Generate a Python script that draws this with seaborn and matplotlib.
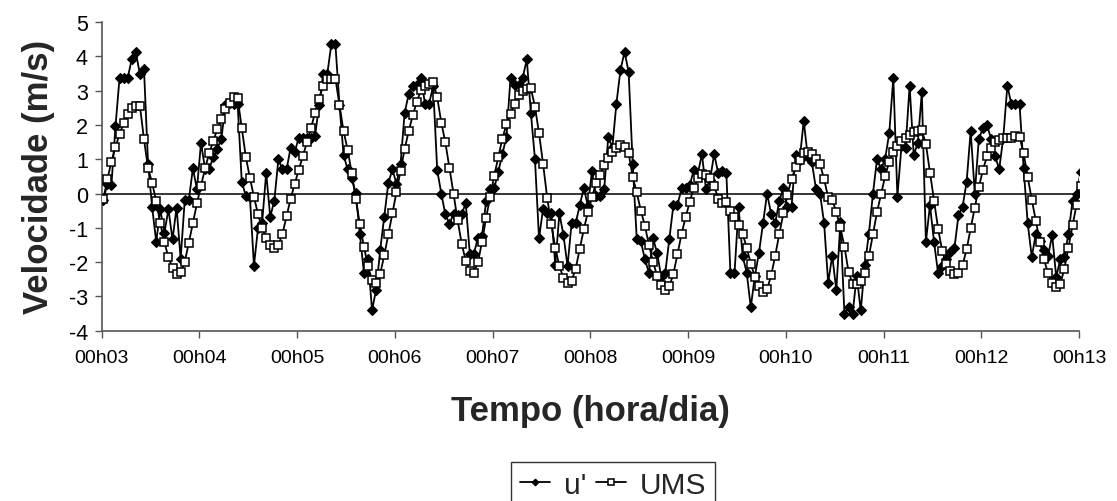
import numpy as np
import matplotlib
matplotlib.use("Agg")
import matplotlib.pyplot as plt
import seaborn as sns

# ---------------- data (hourly samples, day 3 to day 13) ----------------
tick_days = list(range(3, 14))
tick_labels = [f"00h{d:02d}" for d in tick_days]

u_prime = [
    -0.19, 0.28, 0.25, 1.96, 3.38, 3.38, 3.38, 3.91, 4.12, 3.47,
    3.62, 0.87, -0.40, -1.41, -0.46, -1.15, -0.46, -1.34, -0.41, -1.90,
    -0.20, -0.20, 0.73, 0.13, 1.48, 0.71, 0.72, 1.05, 1.30, 1.60,
    2.58, 2.63, 2.60, 2.60, 0.35, -0.07, -0.09, -2.10, -1.00, -0.86,
    0.60, -0.68, -0.21, 1.00, 0.70, 0.70, 1.33, 1.20, 1.63, 1.63,
    1.63, 1.63, 1.68, 2.59, 3.48, 3.48, 4.35, 4.35, 2.59, 1.13,
    0.70, 0.44, 0.02, -1.17, -2.31, -1.92, -3.40, -2.80, -1.65, -0.68,
    0.31, 0.70, 0.29, 0.86, 2.35, 2.90, 3.13, 3.16, 3.37, 2.62,
    2.62, 3.13, 0.68, 0.00, -0.61, -0.88, -0.60, -0.63, -0.61, -0.28,
    -1.75, -1.75, -1.30, -1.25, -0.22, 0.12, 0.15, 0.63, 1.15, 1.65,
    3.38, 3.16, 3.16, 3.38, 3.91, 2.35, 1.00, -1.31, -0.44, -0.58,
    -0.58, -2.09, -0.58, -1.21, -2.12, -0.86, -0.86, -0.34, 0.17, -0.37,
    0.65, -0.07, -0.07, 0.12, 1.65, 1.34, 2.62, 3.60, 4.13, 3.55,
    0.87, -1.33, -1.39, -1.92, -2.31, -1.31, -1.73, -2.43, -2.31, -1.33,
    -0.34, -0.34, 0.15, 0.15, 0.24, 0.68, 0.58, 1.15, 0.12, 0.40,
    1.15, 0.60, 0.65, 0.60, -2.33, -2.33, -0.40, -1.82, -2.31, -3.32,
    -2.40, -1.74, -0.87, 0.00, -0.60, -0.87, -0.21, 0.15, -0.38, -0.40,
    1.13, 0.98, 2.12, 1.06, 0.91, 0.14, 0.00, -0.86, -2.60, -1.81,
    -2.82, -0.84, -3.52, -3.31, -3.51, -2.40, -3.41, -2.09, -1.17, 0.00,
    1.00, 0.70, 1.02, 1.76, 3.37, -0.09, 1.38, 1.33, 3.14, 1.13,
    1.46, 2.95, -1.41, -0.34, -1.41, -2.33, -2.10, -1.90, -1.70, -1.60,
    -0.63, -0.39, 0.34, 1.83, 0.00, 1.60, 1.90, 1.99, 1.60, 1.09,
    0.71, 1.63, 3.14, 2.60, 2.60, 2.60, 0.73, -0.87, -1.85, -1.17,
    -1.39, -1.65, -1.83, -1.21, -2.43, -1.92, -1.85, -1.17, -0.22, 0.00,
    0.63,
]

ums = [
    -0.17, 0.41, 0.93, 1.36, 1.73, 2.05, 2.31, 2.48, 2.56, 2.55,
    1.58, 0.73, 0.31, -0.23, -0.87, -1.42, -1.86, -2.17, -2.36, -2.30,
    -2.00, -1.44, -0.86, -0.29, 0.23, 0.73, 1.17, 1.53, 1.87, 2.18,
    2.45, 2.65, 2.81, 2.77, 1.92, 1.07, 0.46, -0.10, -0.60, -1.02,
    -1.30, -1.49, -1.58, -1.49, -1.18, -0.66, -0.16, 0.28, 0.68, 1.09,
    1.49, 1.90, 2.36, 2.76, 3.14, 3.35, 3.35, 3.35, 2.59, 1.82,
    1.28, 0.60, -0.17, -0.89, -1.55, -2.12, -2.53, -2.60, -2.34, -1.80,
    -1.19, -0.58, 0.05, 0.67, 1.29, 1.82, 2.28, 2.67, 3.01, 3.12,
    3.18, 3.26, 2.80, 2.07, 1.49, 0.75, 0.00, -0.77, -1.46, -1.96,
    -2.26, -2.31, -2.01, -1.41, -0.71, -0.09, 0.52, 1.06, 1.60, 2.02,
    2.32, 2.61, 2.87, 2.98, 3.06, 3.07, 2.53, 1.76, 0.86, -0.12,
    -0.90, -1.58, -2.12, -2.46, -2.62, -2.54, -2.19, -1.62, -1.04, -0.54,
    -0.11, 0.31, 0.55, 0.82, 1.04, 1.21, 1.34, 1.40, 1.35, 1.18,
    0.49, 0.03, -0.50, -0.94, -1.51, -1.99, -2.41, -2.67, -2.82, -2.71,
    -2.34, -1.77, -1.18, -0.69, -0.25, 0.17, 0.44, 0.56, 0.53, 0.44,
    0.22, -0.15, -0.29, -0.25, -0.52, -0.68, -0.92, -1.17, -1.58, -2.05,
    -2.43, -2.69, -2.87, -2.79, -2.39, -1.81, -1.18, -0.58, -0.05, 0.43,
    0.76, 0.99, 1.17, 1.21, 1.14, 1.01, 0.86, 0.42, -0.11, -0.19,
    -0.54, -0.99, -1.55, -2.28, -2.64, -2.64, -2.56, -2.31, -1.83, -1.19,
    -0.54, -0.01, 0.51, 0.93, 1.20, 1.38, 1.53, 1.62, 1.72, 1.80,
    1.83, 1.85, 1.44, 0.61, -0.22, -1.03, -1.67, -2.06, -2.27, -2.34,
    -2.31, -2.09, -1.63, -1.01, -0.41, 0.18, 0.69, 1.08, 1.33, 1.50,
    1.56, 1.61, 1.62, 1.63, 1.68, 1.65, 1.17, 0.48, -0.18, -0.80,
    -1.41, -1.92, -2.33, -2.60, -2.73, -2.65, -2.19, -1.58, -0.93, -0.33,
    0.22,
]

hours = np.arange(len(ums))
t_days = tick_days[0] + (hours + 0.4) / 24.0

# ---------------- style ----------------
sns.set_style("ticks")
plt.rcParams["font.family"] = ["Liberation Sans", "DejaVu Sans"]
plt.rcParams["axes.unicode_minus"] = False

fig = plt.figure(figsize=(11.17, 5.02), dpi=100)
ax = fig.add_axes([0.0910, 0.3392, 0.8750, 0.6150])

ax.axhline(0, color="black", lw=1.1, zorder=1)

sns.lineplot(x=t_days, y=u_prime, ax=ax, color="black", lw=1.3,
             marker="D", markersize=4.6, markerfacecolor="black",
             markeredgecolor="black", markeredgewidth=0.8,
             label="u'", sort=False, zorder=3)
sns.lineplot(x=t_days, y=ums, ax=ax, color="black", lw=1.3,
             marker="s", markersize=5.2, markerfacecolor="white",
             markeredgecolor="black", markeredgewidth=1.1,
             label="UMS", sort=False, zorder=4)

ax.set_xlim(tick_days[0], tick_days[-1])
ax.set_ylim(-4, 5)
ax.set_xticks(tick_days)
ax.set_xticklabels(tick_labels)
ax.set_yticks(range(-4, 6))
ax.tick_params(axis="x", labelsize=14, length=5, width=1,
               color="#555555", labelcolor="black", direction="out", pad=8)
ax.tick_params(axis="y", labelsize=15.5, length=5, width=1,
               color="#555555", labelcolor="black", direction="out", pad=5)

for side in ("top", "right"):
    ax.spines[side].set_visible(False)
for side in ("left", "bottom"):
    ax.spines[side].set_color("#555555")
    ax.spines[side].set_linewidth(1.2)

ax.set_ylabel("Velocidade (m/s)", fontsize=25, fontweight="bold", labelpad=10)
ax.set_xlabel("Tempo (hora/dia)", fontsize=25, fontweight="bold", labelpad=20)

handles, labels = ax.get_legend_handles_labels()
ax.get_legend().remove()
leg = fig.legend(handles, labels, loc="upper center",
                 bbox_to_anchor=(0.549, 0.078), ncol=2, fontsize=21.5,
                 frameon=True, fancybox=False, edgecolor="black",
                 handlelength=1.0, handletextpad=0.45, columnspacing=0.35,
                 borderpad=0.3, markerscale=0.75, borderaxespad=0)
leg.get_frame().set_linewidth(1.0)

fig.savefig("out.png", dpi=100)
